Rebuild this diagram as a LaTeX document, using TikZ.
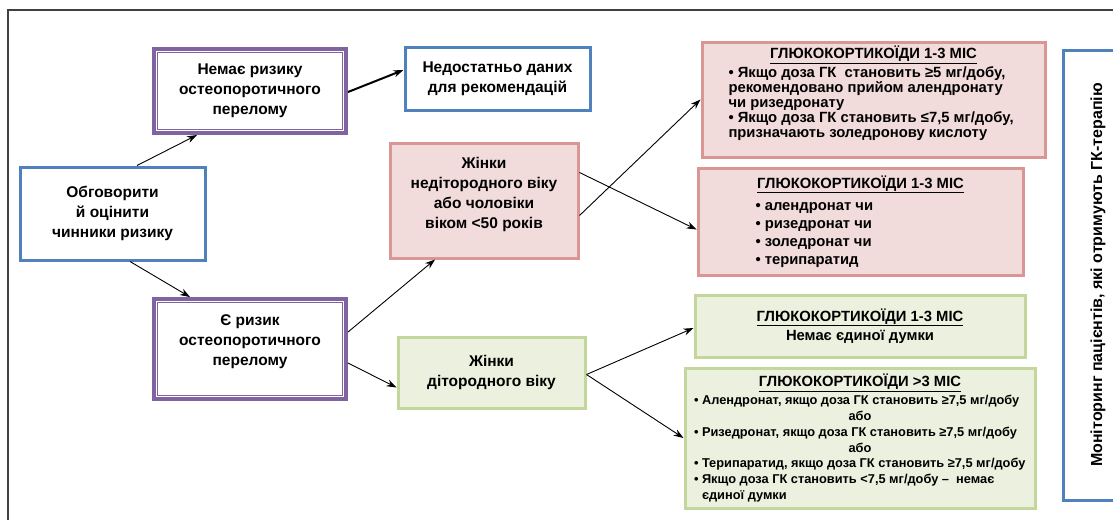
\documentclass[tikz,border=0pt]{standalone}
\usepackage{fontspec}
\setmainfont{Liberation Sans}
\usetikzlibrary{arrows.meta}
\definecolor{bblue}{RGB}{79,129,189}
\definecolor{bpurp}{RGB}{128,100,162}
\definecolor{bpink}{RGB}{217,150,148}
\definecolor{fpink}{RGB}{242,220,219}
\definecolor{bgreen}{RGB}{195,214,155}
\definecolor{fgreen}{RGB}{235,241,222}
\definecolor{frameclr}{RGB}{64,64,64}
\begin{document}
\begin{tikzpicture}[x=1pt,y=-1pt,
  every node/.style={align=center, inner sep=0pt},
  bluebox/.style={draw=bblue, line width=3pt, fill=white},
  purpbox/.style={draw=bpurp, line width=6pt, fill=white},
  pinkbox/.style={draw=bpink, line width=3pt, fill=fpink},
  greenbox/.style={draw=bgreen, line width=3pt, fill=fgreen},
  bigtxt/.style={font=\bfseries\fontsize{15.5}{20}\selectfont},
  midtxt/.style={font=\bfseries\fontsize{14.8}{15}\selectfont},
  arr/.style={-{Stealth[length=10pt,width=7pt]}, line width=0.9pt},
  inner/.style={draw=white, line width=0.8pt},
]
\useasboundingbox (0,0) rectangle (1113,520);
\draw[frameclr, line width=1.5pt] (8,520) -- (8,10) -- (1113,10);

% left column
\node[bluebox, bigtxt, minimum width=185pt, minimum height=93pt] (A) at (112.5,213.5)
  {Обговорити\\й оцінити\\чинники ризику};
\node[purpbox, bigtxt, minimum width=190pt, minimum height=82pt] (B) at (250,91)
  {Немає ризику\\остеопоротичного\\перелому};
\node[purpbox, bigtxt, minimum width=190pt, minimum height=98pt] (D) at (250,349)
  {Є ризик\\остеопоротичного\\перелому\\[-2pt]\mbox{}};
\draw[inner] ([shift={(4.8pt,4.8pt)}]B.south west) rectangle ([shift={(-4.8pt,-4.8pt)}]B.north east);
\draw[inner] ([shift={(4.8pt,4.8pt)}]D.south west) rectangle ([shift={(-4.8pt,-4.8pt)}]D.north east);

% middle column
\node[bluebox, bigtxt, minimum width=185pt, minimum height=63pt] (C) at (497.5,78.5)
  {Недостатньо даних\\для рекомендацій};
\node[pinkbox, bigtxt, minimum width=188pt, minimum height=115pt] (E) at (484,200.5)
  {Жінки\\недітородного віку\\або чоловіки\\віком <50 років\\[-5pt]\mbox{}};
\node[greenbox, bigtxt, minimum width=187pt, minimum height=71pt] (F) at (491.5,372.5)
  {Жінки\\дітородного віку};

% right column
\node[pinkbox, midtxt, minimum width=343pt, minimum height=115pt] (G) at (873.5,99.5)
  {\underline{ГЛЮКОКОРТИКОЇДИ 1-3 МІС}\\[2pt]%
   \begin{minipage}[t]{290pt}\raggedright
   • Якщо доза ГК\ \ становить ≥5 мг/добу,\\
   рекомендовано прийом алендронату\\
   чи ризедронату\\
   • Якщо доза ГК становить ≤7,5 мг/добу,\\
   призначають золедронову кислоту\vspace{12pt}
   \end{minipage}};
\node[pinkbox, font=\bfseries\fontsize{14.8}{18}\selectfont, minimum width=325pt, minimum height=107pt] (H) at (860.5,221.5)
  {\underline{ГЛЮКОКОРТИКОЇДИ 1-3 МІС}\\[4pt]%
   \begin{minipage}[t]{210pt}\raggedright
   • алендронат чи\\
   • ризедронат чи\\
   • золедронат чи\\
   • терипаратид
   \end{minipage}};
\node[greenbox, font=\bfseries\fontsize{14.8}{19}\selectfont, minimum width=330pt, minimum height=62pt] (I) at (860,326)
  {\underline{ГЛЮКОКОРТИКОЇДИ 1-3 МІС}\\Немає єдиної думки};
\node[greenbox, midtxt, minimum width=350pt, minimum height=140pt] (J) at (860,438)
  {\underline{ГЛЮКОКОРТИКОЇДИ >3 МІС}\\[3pt]%
   \begin{minipage}[t]{332pt}\fontsize{12.8}{15.7}\selectfont\raggedright
   • Алендронат, якщо доза ГК становить ≥7,5 мг/добу\\
   \makebox[\linewidth]{або}\\
   • Ризедронат, якщо доза ГК становить ≥7,5 мг/добу\\
   \makebox[\linewidth]{або}\\
   • Терипаратид, якщо доза ГК становить ≥7,5 мг/добу\\
   • Якщо доза ГК становить <7,5 мг/добу –\ \ немає\\
   \hspace*{8pt}єдиної думки
   \end{minipage}};
\node[bluebox, font=\bfseries\fontsize{16}{18}\selectfont, rotate=90, minimum width=450pt, minimum height=70pt] (K) at (1098,275)
  {Моніторинг пацієнтів, які отримують ГК-терапію};

% connectors
\draw[arr] ([xshift=24.5pt]A.north) -- ([xshift=-53pt]B.south);
\draw[arr] ([xshift=17.5pt]A.south) -- ([xshift=-60pt]D.north);
\draw[arr, line width=2pt] ([yshift=-1pt]B.east) -- ([yshift=8.5pt]C.west);
\draw[arr] ([yshift=17pt]D.east) -- ([xshift=-49pt]E.south);
\draw[arr] ([yshift=-14pt]D.east) -- ([yshift=-15pt]F.west);
\draw[arr] ([yshift=-15pt]E.east) -- (G.west);
\draw[arr] ([yshift=28pt]E.east) -- ([yshift=-8pt]H.west);
\draw[arr] ([yshift=-2pt]F.east) -- ([yshift=-2pt]I.west);
\draw[arr] ([yshift=-2pt]F.east) -- (J.west);
\end{tikzpicture}
\end{document}
